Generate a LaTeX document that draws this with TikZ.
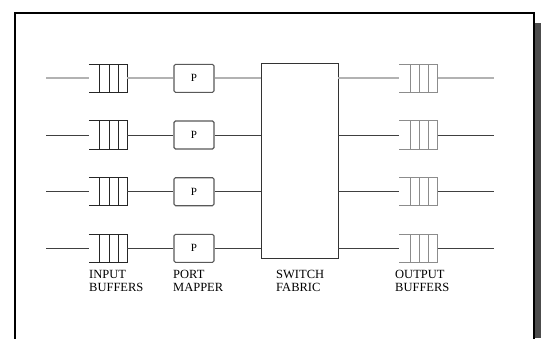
\documentclass[tikz,border=0pt]{standalone}
\usepackage{fontspec}
\setmainfont{Liberation Serif}
\begin{document}
\begin{tikzpicture}[x=1pt,y=-1pt,
  wire/.style={draw=black!75, line width=1pt},
  wirelight/.style={draw=black!30, line width=1.8pt},
  qbox/.style={minimum width=38pt, minimum height=28pt, inner sep=0pt, draw=none},
  qin/.style={draw=black!85, line width=1pt},
  qout/.style={draw=black!45, line width=1.1pt},
  pbox/.style={draw=black!65, line width=1.1pt, rounded corners=1.5pt, minimum width=40pt, minimum height=28pt, inner sep=0pt, font=\fontsize{11}{11}\selectfont},
  fabric/.style={draw=black!80, line width=0.9pt, minimum width=77pt, minimum height=195pt, inner sep=0pt},
  lbl/.style={anchor=north west, align=left, inner sep=0pt, font=\fontsize{12.5}{13}\selectfont}]
\useasboundingbox (0,0) rectangle (541,338);
\fill[white] (0,0) rectangle (541,338);
\fill[black!70] (535,23) rectangle (541,338);
\draw[black, line width=1.3pt] (15,340) -- (15,13) -- (534,13) -- (534,340);
\node[fabric] (fab) at (299.5,160.5) {};
\foreach \i/\y in {1/78.3,2/135,3/191.7,4/248.3}{
  \coordinate (in\i) at (46,\y);
  \node[qbox] (ib\i) at (108,\y) {};
  \node[pbox] (p\i) at (194,\y) {P};
  \node[qbox] (ob\i) at (418.5,\y) {};
  \coordinate (out\i) at (494,\y);
  \draw[qin] (ib\i.north west) -- (ib\i.north east) -- (ib\i.south east) -- (ib\i.south west);
  \draw[qin] (ib\i.north west) ++(11,0) -- ++(0,28);
  \draw[qin] (ib\i.north west) ++(20.3,0) -- ++(0,28);
  \draw[qin] (ib\i.north west) ++(29.7,0) -- ++(0,28);
  \draw[qout] (ob\i.north west) -- (ob\i.north east) -- (ob\i.south east) -- (ob\i.south west);
  \draw[qout] (ob\i.north west) ++(11,0) -- ++(0,28);
  \draw[qout] (ob\i.north west) ++(20,0) -- ++(0,28);
  \draw[qout] (ob\i.north west) ++(29.5,0) -- ++(0,28);
}
\foreach \i/\s in {1/wirelight,2/wire,3/wire,4/wire}{
  \draw[\s] (in\i) -- (ib\i.west);
  \draw[\s] (ib\i.east) -- (p\i.west);
  \draw[\s] (p\i.east) -- (fab.west |- p\i.east);
  \draw[\s] (fab.east |- ob\i.west) -- (ob\i.west);
  \draw[\s] (ob\i.east) -- (out\i);
}
\node[lbl] (l1) at (89,270) {INPUT\\BUFFERS};
\node[lbl] (l2) at (173,270) {PORT\\MAPPER};
\node[lbl] (l3) at (276,270) {SWITCH\\FABRIC};
\node[lbl] (l4) at (395,270) {OUTPUT\\BUFFERS};
\end{tikzpicture}
\end{document}
